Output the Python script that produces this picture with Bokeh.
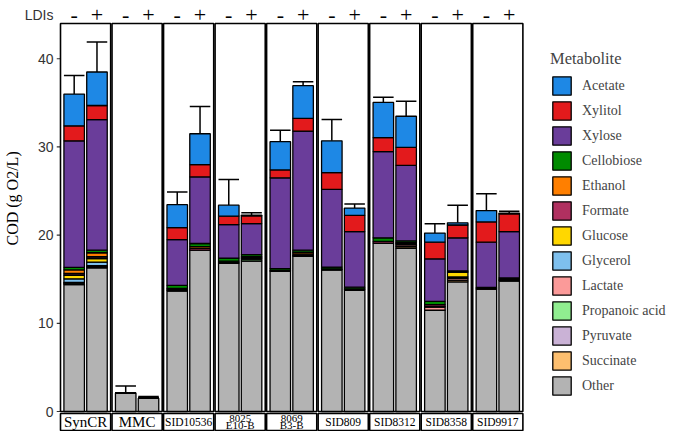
import numpy as np
from bokeh.plotting import figure
from bokeh.models import ColumnDataSource, Range1d, FixedTicker, Legend, LegendItem, Title
from bokeh.core.properties import value
from bokeh.embed import file_html
from bokeh.resources import INLINE

# ---------------- data ----------------
groups = ["SynCR", "MMC", "SID10536", "8025\nE10-B", "8069\nB3-B", "SID809", "SID8312", "SID8358", "SID9917"]
ldis = ["-", "+"]

metabolites = ["Acetate", "Xylitol", "Xylose", "Cellobiose", "Ethanol", "Formate", "Glucose",
               "Glycerol", "Lactate", "Propanoic acid", "Pyruvate", "Succinate", "Other"]
colors = ["#1E88E5", "#E31A1C", "#6A3D9A", "#008B00", "#FF7F00", "#B03060", "#FFD700",
          "#7EC0EE", "#FB9A99", "#90EE90", "#CAB2D6", "#FDBF6F", "#B3B3B3"]

# values per bar: group order above, each group "-" then "+"
acetate    = [3.6, 3.8, 0, 0, 2.6, 3.5, 1.25, 0.08, 3.2, 3.7, 3.6, 0.82, 4.0, 3.53, 1.03, 0.25, 1.28, 0.1]
xylitol    = [1.7, 1.6, 0, 0, 1.35, 1.4, 0.95, 0.9, 0.9, 1.45, 1.9, 1.85, 1.58, 2.05, 1.9, 1.45, 2.3, 2.0]
xylose     = [14.35, 14.8, 0, 0, 5.2, 7.55, 3.8, 3.5, 10.3, 13.5, 8.82, 6.3, 9.77, 8.55, 4.82, 3.75, 5.13, 5.25]
cellobiose = [0.3, 0.3, 0, 0, 0.35, 0.35, 0.35, 0.23, 0.2, 0.24, 0.2, 0.2, 0.4, 0.2, 0.35, 0.1, 0.1, 0.15]
ethanol    = [0.4, 0.45, 0, 0, 0.15, 0.2, 0.15, 0.1, 0.05, 0.2, 0, 0, 0, 0, 0, 0, 0, 0]
formate    = [0.2, 0.2, 0, 0, 0.1, 0.2, 0.1, 0.15, 0.05, 0.2, 0.1, 0.1, 0.2, 0.1, 0.25, 0.05, 0.1, 0.15]
glucose    = [0.4, 0.4, 0, 0, 0, 0, 0, 0, 0, 0, 0, 0, 0, 0, 0, 0.55, 0, 0]
glycerol   = [0.4, 0.4, 0, 0, 0, 0, 0, 0, 0, 0, 0, 0, 0, 0.15, 0, 0.15, 0, 0]
lactate    = [0.05, 0.05, 0, 0, 0, 0, 0, 0, 0, 0, 0, 0, 0, 0.2, 0.4, 0.2, 0, 0]
propanoic  = [0.05, 0.05, 0, 0, 0, 0, 0, 0.25, 0, 0, 0, 0, 0, 0, 0, 0, 0, 0]
pyruvate   = [0.05, 0.05, 0, 0, 0, 0, 0, 0, 0, 0, 0, 0, 0, 0, 0, 0, 0, 0]
succinate  = [0.1, 0.1, 0, 0, 0, 0, 0, 0, 0, 0, 0, 0, 0, 0.2, 0, 0.2, 0, 0]
other      = [14.4, 16.3, 2.1, 1.5, 13.7, 18.3, 16.8, 17.07, 15.9, 17.66, 16.08, 13.8, 19.1, 18.5, 11.48, 14.7, 13.87, 14.85]
error      = [2.1, 3.4, 0.8, 0.2, 1.45, 3.1, 2.9, 0.25, 1.3, 0.45, 2.4, 0.45, 0.6, 1.7, 1.05, 2.0, 1.9, 0.2]

y_ticks = [0, 10, 20, 30, 40]
y_label = "COD (g O2/L)"
header_label = "LDIs"

# ---------------- layout constants ----------------
FIG_W, FIG_H = 669, 431
BORDER_L = 56
TICK_LEN = 4         # px
PX_X = 22.8          # px per x unit
PANEL_W = 2.2        # two bars + expansion
PITCH = 2.26         # panel pitch (small gap between facets)
BAR_W = 0.9
Y_TOP = 44.0
ZERO_PX = 411        # px from top to y=0
TOP_PX = 23          # px from top to panel top
PX_Y = (ZERO_PX - TOP_PX) / Y_TOP
FRAME_W = FIG_W - BORDER_L
HDR_Y = 45.0         # header row position (data units)

y_start = -(FIG_H - ZERO_PX) / PX_Y
y_end = ZERO_PX / PX_Y
x0 = TICK_LEN / PX_X

data = dict(other=other, succinate=succinate, pyruvate=pyruvate, propanoic=propanoic,
            lactate=lactate, glycerol=glycerol, glucose=glucose, formate=formate,
            ethanol=ethanol, cellobiose=cellobiose, xylose=xylose, xylitol=xylitol, acetate=acetate)
stack_keys = ["other", "succinate", "pyruvate", "propanoic", "lactate", "glycerol", "glucose",
              "formate", "ethanol", "cellobiose", "xylose", "xylitol", "acetate"]
stack_names = ["Other", "Succinate", "Pyruvate", "Propanoic acid", "Lactate", "Glycerol", "Glucose",
               "Formate", "Ethanol", "Cellobiose", "Xylose", "Xylitol", "Acetate"]
color_of = dict(zip(metabolites, colors))

n_g = len(groups)
panel_left = np.array([x0 + i * PITCH for i in range(n_g)])
xs = []
for gi in range(n_g):
    for j in range(len(ldis)):
        xs.append(panel_left[gi] + 0.6 + j)
data["x"] = xs
src = ColumnDataSource(data)

totals = np.sum([np.array(data[k]) for k in stack_keys], axis=0)
err_top = totals + np.array(error)

p = figure(width=FIG_W, height=FIG_H, x_range=Range1d(0, FRAME_W / PX_X), y_range=Range1d(y_start, y_end),
           output_backend="svg", toolbar_location=None, x_axis_type=None,
           min_border_left=BORDER_L, min_border_right=0, min_border_top=0, min_border_bottom=0)
p.grid.visible = False
p.outline_line_color = None
p.background_fill_color = "white"
p.border_fill_color = "white"

# y tick marks (between axis labels and first panel)
p.segment(x0=0, y0=y_ticks, x1=x0, y1=y_ticks, line_color="#333333", line_width=1.2)

# panels
p.quad(left=panel_left, right=panel_left + PANEL_W, bottom=0, top=Y_TOP,
       fill_color="white", line_color="black", line_width=1.6)

# error bars
p.segment(x0=xs, y0=totals, x1=xs, y1=err_top, line_color="black", line_width=1.5)
p.segment(x0=np.array(xs) - BAR_W / 2, y0=err_top, x1=np.array(xs) + BAR_W / 2, y1=err_top,
          line_color="black", line_width=1.5)

# stacked bars
rs = p.vbar_stack(stack_keys, x="x", width=BAR_W, source=src,
                  fill_color=[color_of[n] for n in stack_names],
                  line_color="black", line_width=1.3)

# strips at bottom
strip_top = -2.0 / PX_Y
strip_bot = -(FIG_H - ZERO_PX - 1.0) / PX_Y
p.quad(left=panel_left, right=panel_left + PANEL_W, bottom=strip_bot, top=strip_top,
       fill_color="white", line_color="black", line_width=1.6)
line1, line2 = [], []
for g in groups:
    parts = g.split("\n")
    line1.append(parts[0])
    line2.append(parts[1] if len(parts) > 1 else "")
sc = (strip_top + strip_bot) / 2
single = [i for i, g in enumerate(groups) if "\n" not in g]
double = [i for i, g in enumerate(groups) if "\n" in g]
big = [i for i in single if not groups[i].startswith("SID")]
small = [i for i in single if groups[i].startswith("SID")]
cx = panel_left + PANEL_W / 2
serif = value("Liberation Serif")
p.text(x=cx[big], y=sc, text=[line1[i] for i in big], text_align="center", text_baseline="middle",
       text_font=serif, text_font_size="15px", text_color="black")
p.text(x=cx[small], y=sc, text=[line1[i] for i in small], text_align="center", text_baseline="middle",
       text_font=serif, text_font_size="11.5px", text_color="black")
p.text(x=cx[double], y=sc + 3.6 / PX_Y, text=[line1[i] for i in double], text_align="center",
       text_baseline="middle", text_font=serif, text_font_size="11px", text_color="black")
p.text(x=cx[double], y=sc - 3.4 / PX_Y, text=[line2[i] for i in double], text_align="center",
       text_baseline="middle", text_font=serif, text_font_size="11px", text_color="black")

# header - +
p.text(x=xs, y=HDR_Y, text=[ldis[i % 2] for i in range(len(xs))], text_align="center",
       text_baseline="middle", text_font=serif, text_font_size="22px", text_color="black")

# y axis (tick labels + 'LDIs' header label at the header row)
ax = p.yaxis[0]
ax.ticker = FixedTicker(ticks=y_ticks + [HDR_Y])
ax.major_label_overrides = {HDR_Y: header_label}
ax.axis_line_color = None
ax.major_tick_line_color = None
ax.major_tick_out = 0
ax.major_tick_in = 0
ax.minor_tick_line_color = None
ax.major_label_standoff = 3
ax.major_label_text_font = "Liberation Sans"
ax.major_label_text_font_size = "14px"
ax.major_label_text_color = "#333333"

# y axis title, placed on the left side, shifted up to the panel centre
ytitle = Title(text=y_label, align="left", offset=186, standoff=2,
               text_font="Liberation Serif", text_font_size="16px", text_font_style="normal",
               text_color="black")
p.add_layout(ytitle, "left")

# legend
name_to_r = dict(zip(stack_names, rs))
items = [LegendItem(label=m, renderers=[name_to_r[m]]) for m in metabolites]
legend = Legend(items=items, location=(494, 34), title="Metabolite",
                title_text_font="Liberation Serif", title_text_font_size="16.5px", title_text_font_style="normal",
                title_standoff=5, label_text_font="Liberation Serif", label_text_font_size="14px",
                glyph_width=23, glyph_height=23, label_height=23, spacing=2, label_standoff=9,
                padding=0, margin=0, border_line_color=None, background_fill_alpha=0)
p.add_layout(legend)

open("out.html", "w").write(file_html(p, INLINE))
